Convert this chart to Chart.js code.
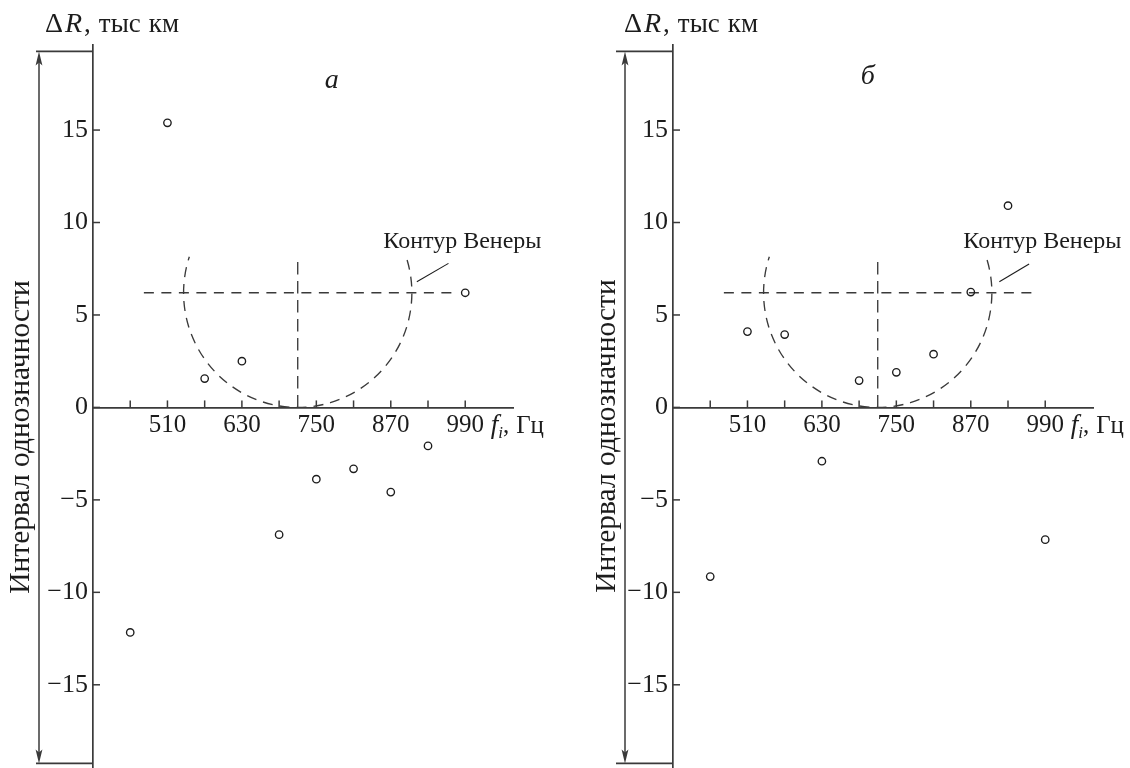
<!DOCTYPE html>
<html>
<head>
<meta charset="utf-8">
<script src="https://cdn.jsdelivr.net/npm/chart.js@4.4.1/dist/chart.umd.min.js"></script>
<style>
  html, body { margin: 0; padding: 0; background: #fff; }
  #wrap { position: relative; width: 1130px; height: 768px; overflow: hidden; background: #fff; }
  canvas { position: absolute; top: 0; }
  #ca { left: 0; }
  #cb { left: 580px; }
</style>
</head>
<body>
<div id="wrap">
  <canvas id="ca" width="578" height="768"></canvas>
  <canvas id="cb" width="550" height="768"></canvas>
</div>
<script>
// Probing frequencies f_i, Hz
const frequencies = [450, 510, 570, 630, 690, 750, 810, 870, 930, 990];
// Range offset ΔR, thousand km — series "а"
const deltaRA = [-12.17, 15.39, 1.56, 2.50, -6.88, -3.88, -3.32, -4.58, -2.08, 6.2];
// Range offset ΔR, thousand km — series "б"
const deltaRB = [-9.15, 4.10, 3.94, -2.91, 1.45, 1.90, 2.88, 6.24, 10.91, -7.15];

// Axis ticks
const xTickValues = [450, 510, 570, 630, 690, 750, 810, 870, 930, 990];
const xTickLabels = [510, 630, 750, 870, 990];
const yTickValues = [-15, -10, -5, 0, 5, 10, 15];

// Venus contour (data units): centre and semi-axes
const venusCentreF = 720;
const venusCentreR = 6.2;
const venusRadiusF = 184;
const venusRadiusR = 6.2;
// Cross-hair through the contour centre
const crossLineFrom = 472;
const crossLineTo = 976;
const crossLineTop = 8.14;
// Half-width of the ambiguity interval, thousand km
const ambiguityHalf = 19.25;

const INK = '#1c1c1c';
const AXIS = '#3a3a3a';
const SERIF = '"Liberation Serif", "Times New Roman", serif';

function font(size, italic) {
  return (italic ? 'italic ' : '') + size + 'px ' + SERIF;
}

function segment(ctx, x1, y1, x2, y2) {
  ctx.beginPath();
  ctx.moveTo(x1, y1);
  ctx.lineTo(x2, y2);
  ctx.stroke();
}

// Draws text runs one after another, each with its own font and baseline shift
function runs(ctx, x, y, parts) {
  let cx = x;
  parts.forEach(p => {
    ctx.font = p.font;
    ctx.fillText(p.text, cx, y + (p.dy || 0));
    cx += ctx.measureText(p.text).width + (p.gap || 0);
  });
}

const overlay = {
  id: 'overlay',
  beforeDatasetsDraw(chart, args, o) {
    const { ctx } = chart;
    const xs = chart.scales.x, ys = chart.scales.y;
    const X = v => xs.getPixelForValue(v);
    const Y = v => ys.getPixelForValue(v);
    ctx.save();
    ctx.strokeStyle = AXIS;
    ctx.lineWidth = 1.35;

    // horizontal cross-hair
    ctx.setLineDash([10, 7.5]);
    segment(ctx, X(crossLineFrom), Y(venusCentreR), X(crossLineTo), Y(venusCentreR));
    // vertical cross-hair
    ctx.setLineDash([12.5, 6.5]);
    segment(ctx, X(venusCentreF), Y(0), X(venusCentreF), Y(crossLineTop));
    // contour of Venus
    ctx.setLineDash([10, 7]);
    const cx = X(venusCentreF), cy = Y(venusCentreR);
    const rx = X(venusCentreF + venusRadiusF) - cx;
    const ry = Y(venusCentreR - venusRadiusR) - cy;
    ctx.beginPath();
    ctx.ellipse(cx, cy, rx, ry, 0, -16.6 * Math.PI / 180, 198.3 * Math.PI / 180);
    ctx.stroke();
    ctx.restore();
  },
  afterDatasetsDraw(chart, args, o) {
    const { ctx, chartArea } = chart;
    const { left } = chartArea;
    const xs = chart.scales.x, ys = chart.scales.y;
    const X = v => xs.getPixelForValue(v);
    const Y = v => ys.getPixelForValue(v);
    const y0 = Y(0);
    ctx.save();
    ctx.strokeStyle = AXIS;
    ctx.fillStyle = AXIS;
    ctx.lineWidth = 1.5;

    // inward tick marks
    xs.ticks.forEach(t => { const px = X(t.value); segment(ctx, px, y0, px, y0 - 7); });
    ys.ticks.forEach(t => { const py = Y(t.value); segment(ctx, left, py, left + 7, py); });

    // ambiguity interval: bounding lines and double arrow
    const yTop = Y(ambiguityHalf), yBot = Y(-ambiguityHalf);
    ctx.lineWidth = 1.7;
    segment(ctx, left - o.limitFrom, yTop, left, yTop);
    segment(ctx, left - o.limitFrom, yBot, left, yBot);
    const ax = left - o.arrowOffset;
    ctx.lineWidth = 1.5;
    segment(ctx, ax, yTop + 10, ax, yBot - 10);
    [[yTop, 1], [yBot, -1]].forEach(([tip, dir]) => {
      ctx.beginPath();
      ctx.moveTo(ax, tip);
      ctx.lineTo(ax - 3.4, tip + dir * 14);
      ctx.lineTo(ax, tip + dir * 11);
      ctx.lineTo(ax + 3.4, tip + dir * 14);
      ctx.closePath();
      ctx.fill();
    });

    // texts
    ctx.fillStyle = INK;
    ctx.textBaseline = 'alphabetic';
    ctx.textAlign = 'left';

    // vertical axis caption
    runs(ctx, left - o.titleOffset, 32, [
      { text: '\u0394', font: font(28), gap: 2 },
      { text: 'R', font: font(28, true), gap: 2 },
      { text: ',', font: font(27), gap: 8 },
      { text: 'тыс', font: font(27), gap: 8 },
      { text: 'км', font: font(27) }
    ]);

    // frequency axis caption
    runs(ctx, X(o.fLabelAt), y0 + 26, [
      { text: 'f', font: font(27, true) },
      { text: 'i', font: font(17, true), dy: 5 },
      { text: ',', font: font(25), gap: 7 },
      { text: 'Гц', font: font(25) }
    ]);

    // panel letter
    ctx.font = font(28, true);
    ctx.textAlign = 'center';
    ctx.fillText(o.letter, X(o.letterAt[0]), Y(o.letterAt[1]));

    // contour caption with leader
    ctx.textAlign = 'left';
    ctx.font = font(24);
    ctx.fillText('Контур Венеры', X(o.captionAt[0]), Y(o.captionAt[1]));
    ctx.strokeStyle = INK;
    ctx.lineWidth = 1.1;
    segment(ctx, X(o.leader[0]), Y(o.leader[1]), X(o.leader[2]), Y(o.leader[3]));

    // ambiguity interval caption, rotated
    ctx.save();
    ctx.translate(ax - o.sideOffset, o.sideCentre);
    ctx.rotate(-Math.PI / 2);
    ctx.textAlign = 'center';
    ctx.textBaseline = 'middle';
    ctx.font = font(29.5);
    ctx.fillText('Интервал однозначности', 0, 0);
    ctx.restore();

    ctx.restore();
  }
};

function makeChart(id, values, panel) {
  return new Chart(document.getElementById(id), {
    type: 'scatter',
    data: {
      datasets: [{
        data: frequencies.map((f, i) => ({ x: f, y: values[i] })),
        pointStyle: 'circle',
        pointRadius: 3.7,
        pointHoverRadius: 3.7,
        borderWidth: 1.35,
        borderColor: INK,
        backgroundColor: 'rgba(255,255,255,0)'
      }]
    },
    options: {
      responsive: false,
      animation: false,
      events: [],
      layout: { autoPadding: false, padding: { left: 0, right: panel.padRight, top: 45, bottom: 0 } },
      plugins: {
        legend: { display: false },
        tooltip: { enabled: false },
        overlay: panel
      },
      scales: {
        x: {
          type: 'linear',
          min: 390,
          max: 1067,
          position: { y: 0 },
          afterBuildTicks: s => { s.ticks = xTickValues.map(v => ({ value: v })); },
          afterFit: s => { s.paddingLeft = 0; s.paddingRight = 0; s.paddingTop = 0; s.paddingBottom = 0; },
          grid: { drawOnChartArea: false, drawTicks: false },
          border: { color: AXIS, width: 1.7 },
          ticks: {
            autoSkip: false,
            maxRotation: 0,
            padding: 3,
            color: INK,
            font: { family: SERIF, size: 25 },
            callback: v => (xTickLabels.includes(v) ? String(v) : '')
          }
        },
        y: {
          type: 'linear',
          min: -19.5,
          max: 19.6,
          position: 'left',
          afterBuildTicks: s => { s.ticks = yTickValues.map(v => ({ value: v })); },
          afterFit: s => { s.width = panel.axisLeft; s.paddingTop = 0; s.paddingBottom = 0; },
          grid: { drawOnChartArea: false, drawTicks: false },
          border: { color: AXIS, width: 1.7 },
          ticks: {
            padding: 5,
            color: INK,
            font: { family: SERIF, size: 26 },
            callback: v => (v < 0 ? '\u2212' + Math.abs(v) : String(v))
          }
        }
      }
    },
    plugins: [overlay]
  });
}

makeChart('ca', deltaRA, {
  axisLeft: 93, padRight: 65, letter: 'a', letterAt: [775, 17.3],
  captionAt: [858, 8.6], leader: [963, 7.79, 912, 6.8],
  fLabelAt: 1031, limitFrom: 57, arrowOffset: 54, titleOffset: 48,
  sideOffset: 18, sideCentre: 437
});
makeChart('cb', deltaRB, {
  axisLeft: 93, padRight: 37, letter: 'б', letterAt: [704, 17.5],
  captionAt: [858, 8.6], leader: [964, 7.76, 916, 6.8],
  fLabelAt: 1031, limitFrom: 57, arrowOffset: 48, titleOffset: 49,
  sideOffset: 18, sideCentre: 436
});
</script>
</body>
</html>
